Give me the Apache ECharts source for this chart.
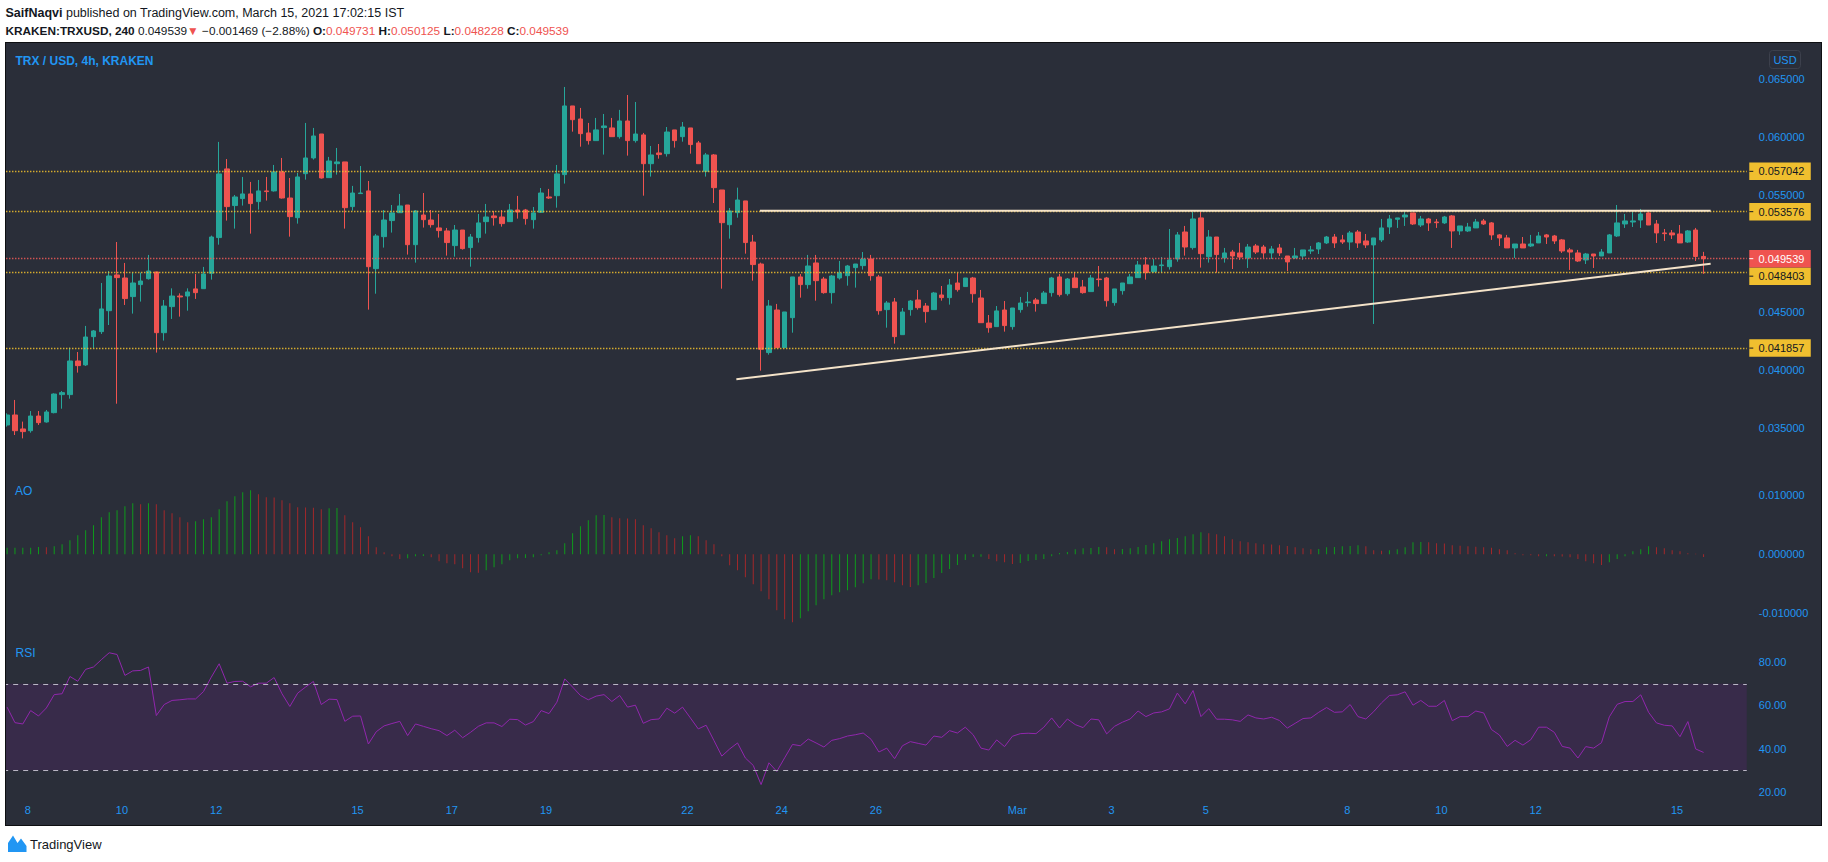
<!DOCTYPE html>
<html>
<head>
<meta charset="utf-8">
<script src="https://cdn.jsdelivr.net/npm/echarts@6/dist/echarts.min.js"></script>
<style>
html,body{margin:0;padding:0;background:#ffffff;}
#wrap{position:relative;width:1828px;height:862px;overflow:hidden;}
#bg{position:absolute;left:5px;top:42px;width:1817px;height:784px;box-sizing:border-box;background:#2a2e39;border:1px solid #0e0f12;}
#c{position:absolute;left:0;top:0;width:1828px;height:862px;}
</style>
</head>
<body>
<div id="wrap"><div id="bg"></div><div id="c"></div></div>
<script>
// ---------------- DATA ----------------
const firstCandleUTC = Date.UTC(2021, 1, 7, 8, 0); // first 4h candle (13:30 IST, Feb 7)
const candleHours = 4;

const open = [0.03525,0.03611,0.03491,0.03476,0.03602,0.03551,0.03631,0.03786,0.03786,0.04075,
0.04041,0.04284,0.04327,0.04507,0.04814,0.04788,0.04628,0.04731,0.04782,0.04840,
0.04318,0.04542,0.04633,0.04633,0.04694,0.04696,0.04828,0.05135,0.05725,0.05410,
0.05470,0.05510,0.05444,0.05536,0.05536,0.05699,0.05475,0.05306,0.05684,0.05819,
0.06025,0.05650,0.05770,0.05785,0.05401,0.05513,0.05536,0.04868,0.05143,0.05281,
0.05349,0.05415,0.05074,0.05329,0.05286,0.05218,0.05192,0.05066,0.05200,0.05049,
0.05135,0.05272,0.05321,0.05312,0.05272,0.05372,0.05372,0.05289,0.05352,0.05484,
0.05495,0.05676,0.06266,0.06154,0.06034,0.05968,0.06080,0.06077,0.06002,0.06137,
0.05968,0.06017,0.05770,0.05862,0.05856,0.06060,0.06002,0.06077,0.05948,0.05705,
0.05845,0.05544,0.05246,0.05349,0.05450,0.05097,0.04908,0.04147,0.04513,0.04190,
0.04447,0.04797,0.04731,0.04917,0.04779,0.04662,0.04788,0.04808,0.04877,0.04894,
0.04951,0.04797,0.04516,0.04582,0.04301,0.04516,0.04599,0.04547,0.04516,0.04642,
0.04619,0.04745,0.04714,0.04788,0.04616,0.04401,0.04370,0.04513,0.04370,0.04516,
0.04576,0.04599,0.04568,0.04662,0.04797,0.04653,0.04788,0.04711,0.04671,0.04779,
0.04788,0.04576,0.04679,0.04739,0.04791,0.04900,0.04842,0.04894,0.04885,0.04951,
0.05183,0.05049,0.05304,0.04971,0.05140,0.04960,0.05011,0.05003,0.04960,0.05063,
0.05054,0.05003,0.05046,0.04977,0.04960,0.04977,0.05020,0.05037,0.05089,0.05140,
0.05115,0.05097,0.05183,0.05106,0.05072,0.05115,0.05226,0.05292,0.05312,0.05347,
0.05243,0.05295,0.05269,0.05261,0.05321,0.05192,0.05192,0.05218,0.05278,0.05261,
0.05158,0.05132,0.05046,0.05080,0.05063,0.05089,0.05158,0.05149,0.05115,0.05029,
0.05003,0.04943,0.04994,0.04977,0.05003,0.05149,0.05252,0.05269,0.05286,0.05347,
0.05252,0.05175,0.05175,0.05166,0.05097,0.05200,0.049731];

const close = [0.03611,0.03476,0.03468,0.03602,0.03545,0.03637,0.03791,0.03803,0.04075,0.04035,
0.04281,0.04333,0.04522,0.04805,0.04791,0.04611,0.04745,0.04762,0.04848,0.04318,
0.04547,0.04633,0.04625,0.04668,0.04662,0.04822,0.05140,0.05682,0.05401,0.05484,
0.05510,0.05427,0.05536,0.05530,0.05699,0.05475,0.05315,0.05656,0.05819,0.06008,
0.05647,0.05793,0.05785,0.05392,0.05518,0.05518,0.04885,0.05149,0.05286,0.05347,
0.05407,0.05074,0.05364,0.05289,0.05246,0.05195,0.05092,0.05200,0.05040,0.05140,
0.05261,0.05312,0.05306,0.05255,0.05372,0.05355,0.05298,0.05347,0.05518,0.05475,
0.05682,0.06266,0.06148,0.06028,0.05968,0.06060,0.06094,0.06002,0.06137,0.05968,
0.06025,0.05770,0.05845,0.05848,0.06042,0.05968,0.06085,0.05934,0.05770,0.05845,
0.05564,0.05263,0.05364,0.05458,0.05092,0.04903,0.04175,0.04547,0.04190,0.04496,
0.04797,0.04731,0.04891,0.04765,0.04662,0.04805,0.04831,0.04891,0.04908,0.04951,
0.04808,0.04507,0.04573,0.04284,0.04496,0.04590,0.04533,0.04499,0.04659,0.04619,
0.04728,0.04688,0.04788,0.04653,0.04404,0.04361,0.04505,0.04379,0.04530,0.04573,
0.04582,0.04568,0.04659,0.04788,0.04645,0.04779,0.04705,0.04662,0.04788,0.04774,
0.04593,0.04694,0.04745,0.04797,0.04900,0.04834,0.04891,0.04900,0.04943,0.05158,
0.05054,0.05295,0.04997,0.05140,0.04989,0.05003,0.04977,0.04968,0.05054,0.05011,
0.05003,0.05037,0.05003,0.04926,0.04977,0.05029,0.05029,0.05089,0.05140,0.05089,
0.05097,0.05175,0.05089,0.05072,0.05132,0.05218,0.05295,0.05304,0.05329,0.05252,
0.05295,0.05261,0.05263,0.05312,0.05192,0.05235,0.05226,0.05269,0.05252,0.05158,
0.05132,0.05046,0.05080,0.05046,0.05080,0.05149,0.05140,0.05106,0.05020,0.05011,
0.04934,0.04994,0.04977,0.05011,0.05158,0.05261,0.05278,0.05278,0.05338,0.05243,
0.05175,0.05169,0.05158,0.05089,0.05192,0.04973,0.049539];

const low = [0.03511,0.03439,0.03410,0.03459,0.03525,0.03545,0.03625,0.03665,0.03751,0.03975,
0.04032,0.04184,0.04307,0.04384,0.03708,0.04556,0.04482,0.04585,0.04774,0.04147,
0.04250,0.04436,0.04456,0.04507,0.04608,0.04694,0.04774,0.05074,0.05281,0.05212,
0.05410,0.05169,0.05375,0.05453,0.05530,0.05470,0.05143,0.05255,0.05633,0.05805,
0.05642,0.05650,0.05676,0.05212,0.05367,0.05513,0.04516,0.04653,0.05049,0.05178,
0.05349,0.04989,0.04920,0.05221,0.05221,0.05135,0.04980,0.04971,0.05032,0.04885,
0.05092,0.05169,0.05238,0.05229,0.05272,0.05298,0.05246,0.05212,0.05347,0.05467,
0.05392,0.05599,0.06045,0.05916,0.05934,0.05968,0.05848,0.06002,0.05985,0.05839,
0.05951,0.05495,0.05659,0.05813,0.05831,0.05908,0.05959,0.05856,0.05770,0.05659,
0.05432,0.04696,0.05126,0.05306,0.04997,0.04765,0.03992,0.04129,0.04190,0.04190,
0.04318,0.04619,0.04696,0.04593,0.04653,0.04568,0.04774,0.04722,0.04705,0.04860,
0.04765,0.04473,0.04361,0.04224,0.04301,0.04464,0.04516,0.04404,0.04516,0.04593,
0.04559,0.04671,0.04714,0.04576,0.04404,0.04318,0.04370,0.04327,0.04344,0.04490,
0.04542,0.04499,0.04568,0.04628,0.04628,0.04636,0.04705,0.04653,0.04671,0.04714,
0.04542,0.04550,0.04645,0.04739,0.04791,0.04774,0.04834,0.04834,0.04860,0.04928,
0.04980,0.05032,0.04877,0.04920,0.04834,0.04920,0.04865,0.04943,0.04874,0.04994,
0.04960,0.04951,0.04977,0.04848,0.04951,0.04943,0.04994,0.04994,0.05080,0.05046,
0.05080,0.05029,0.05046,0.05046,0.04393,0.05097,0.05166,0.05218,0.05235,0.05243,
0.05226,0.05192,0.05218,0.05252,0.05046,0.05158,0.05183,0.05218,0.05243,0.05115,
0.05063,0.05046,0.04960,0.05046,0.05054,0.05089,0.05080,0.05080,0.05003,0.04857,
0.04926,0.04908,0.04874,0.04977,0.05003,0.05140,0.05218,0.05226,0.05218,0.05243,
0.05089,0.05106,0.05123,0.05089,0.05089,0.04934,0.048228];

const high = [0.03625,0.03740,0.03554,0.03645,0.03645,0.03654,0.03797,0.03817,0.04190,0.04152,
0.04376,0.04341,0.04745,0.04848,0.05097,0.04917,0.04834,0.04834,0.04986,0.04840,
0.04599,0.04699,0.04656,0.04699,0.04822,0.04883,0.05152,0.05957,0.05810,0.05501,
0.05656,0.05613,0.05630,0.05656,0.05759,0.05819,0.05647,0.05690,0.06120,0.06077,
0.06025,0.05828,0.05905,0.05785,0.05579,0.05750,0.05621,0.05166,0.05372,0.05415,
0.05510,0.05415,0.05372,0.05518,0.05372,0.05338,0.05218,0.05243,0.05200,0.05166,
0.05338,0.05424,0.05364,0.05372,0.05424,0.05493,0.05381,0.05398,0.05561,0.05553,
0.05759,0.06429,0.06266,0.06249,0.06120,0.06163,0.06197,0.06163,0.06232,0.06360,
0.06300,0.06034,0.05922,0.05939,0.06085,0.06060,0.06128,0.06077,0.05965,0.05862,
0.05853,0.05544,0.05389,0.05564,0.05450,0.05158,0.04920,0.04599,0.04565,0.04496,
0.04797,0.04822,0.04986,0.04986,0.04797,0.04814,0.04934,0.04900,0.04908,0.05011,
0.04986,0.04814,0.04590,0.04616,0.04530,0.04599,0.04685,0.04573,0.04668,0.04719,
0.04779,0.04831,0.04788,0.04797,0.04685,0.04470,0.04547,0.04590,0.04530,0.04625,
0.04668,0.04616,0.04676,0.04797,0.04822,0.04788,0.04840,0.04771,0.04814,0.04891,
0.04797,0.04694,0.04745,0.04822,0.04934,0.04968,0.04951,0.04968,0.05209,0.05183,
0.05235,0.05355,0.05355,0.05200,0.05140,0.05046,0.05029,0.05089,0.05080,0.05080,
0.05072,0.05063,0.05080,0.04977,0.05046,0.05029,0.05063,0.05097,0.05149,0.05166,
0.05158,0.05192,0.05200,0.05166,0.05132,0.05295,0.05329,0.05304,0.05355,0.05347,
0.05321,0.05304,0.05295,0.05321,0.05329,0.05235,0.05261,0.05295,0.05295,0.05269,
0.05166,0.05158,0.05080,0.05140,0.05158,0.05183,0.05166,0.05158,0.05123,0.05046,
0.05029,0.05003,0.04994,0.05037,0.05166,0.05415,0.05338,0.05372,0.05381,0.05372,
0.05286,0.05209,0.05200,0.05243,0.05200,0.05218,0.050125];

const aoValues = [0.00113,
0.00113,0.00113,0.00113,0.00124,0.00119,0.00136,0.00170,0.00237,0.00322,0.00407,
0.00492,0.00627,0.00712,0.00746,0.00814,0.00864,0.00848,0.00864,0.00848,0.00746,
0.00695,0.00627,0.00542,0.00559,0.00593,0.00627,0.00763,0.00898,0.00983,0.01051,
0.01085,0.01017,0.00966,0.00962,0.00915,0.00864,0.00797,0.00794,0.00790,0.00763,
0.00780,0.00785,0.00661,0.00542,0.00458,0.00305,0.00119,0.00034,-0.00034,-0.00079,
-0.00068,-0.00034,-0.00028,-0.00051,-0.00119,-0.00153,-0.00170,-0.00237,-0.00305,-0.00311,
-0.00271,-0.00220,-0.00170,-0.00102,-0.00068,-0.00062,-0.00051,-0.00017,0.00034,0.00068,
0.00186,0.00356,0.00475,0.00576,0.00661,0.00667,0.00627,0.00610,0.00605,0.00593,
0.00492,0.00441,0.00373,0.00322,0.00271,0.00305,0.00322,0.00305,0.00237,0.00170,
-0.00034,-0.00186,-0.00271,-0.00390,-0.00509,-0.00627,-0.00763,-0.00949,-0.01102,-0.01153,
-0.01085,-0.00966,-0.00864,-0.00763,-0.00695,-0.00644,-0.00610,-0.00559,-0.00492,-0.00424,
-0.00426,-0.00441,-0.00475,-0.00525,-0.00554,-0.00525,-0.00486,-0.00401,-0.00316,-0.00249,
-0.00181,-0.00096,-0.00045,-0.00040,-0.00079,-0.00119,-0.00136,-0.00164,-0.00147,-0.00113,
-0.00096,-0.00079,-0.00034,0.00023,0.00040,0.00085,0.00102,0.00107,0.00124,0.00119,
0.00085,0.00090,0.00102,0.00124,0.00158,0.00186,0.00220,0.00254,0.00277,0.00305,
0.00339,0.00373,0.00356,0.00339,0.00305,0.00254,0.00220,0.00203,0.00186,0.00170,
0.00164,0.00153,0.00141,0.00119,0.00102,0.00085,0.00090,0.00119,0.00124,0.00136,
0.00141,0.00153,0.00136,0.00068,0.00062,0.00068,0.00085,0.00119,0.00203,0.00209,
0.00203,0.00186,0.00181,0.00153,0.00147,0.00136,0.00130,0.00119,0.00113,0.00085,
0.00068,0.00017,-0.00017,-0.00018,-0.00034,-0.00032,-0.00034,-0.00036,-0.00051,-0.00079,
-0.00119,-0.00153,-0.00181,-0.00136,-0.00079,-0.00034,0.00051,0.00085,0.00136,0.00119,
0.00102,0.00068,0.00051,0.00017,0.00011,-0.00045];

const rsiValues = [59.2,52.0,51.4,57.6,55.1,58.8,65.0,65.4,73.4,71.2,
76.7,77.8,81.2,84.4,83.6,73.9,76.0,76.2,77.8,55.3,
60.4,62.3,62.6,63.0,63.0,66.4,73.1,79.3,70.3,71.1,
71.2,68.6,70.3,70.3,72.9,65.4,59.5,65.7,68.5,71.1,
60.4,62.9,62.7,52.6,55.0,55.1,42.1,47.8,50.5,51.6,
52.6,46.0,51.4,50.3,49.2,48.3,46.0,48.5,45.0,47.5,
50.3,51.9,51.9,50.2,53.6,53.4,50.9,52.5,57.6,56.2,
61.5,72.3,68.5,64.6,62.6,64.3,65.0,61.8,64.6,59.2,
60.1,51.7,53.4,53.7,58.7,56.4,59.2,54.2,49.1,50.8,
43.7,36.5,39.8,42.6,35.6,32.2,23.3,33.4,29.4,35.7,
41.9,41.3,44.4,42.6,40.7,43.8,44.6,45.8,46.4,47.2,
44.3,38.4,40.2,35.3,41.3,43.2,42.4,41.6,45.8,45.2,
48.3,47.2,49.9,46.4,40.2,39.3,44.0,40.9,45.7,46.9,
47.1,46.9,49.9,54.2,49.5,53.7,51.1,49.7,53.7,53.3,
46.8,50.3,52.2,53.7,57.4,54.8,56.5,57.0,58.4,65.7,
60.7,66.9,54.8,58.5,53.6,53.6,53.3,52.6,55.6,54.2,
53.7,54.5,53.0,49.5,51.7,53.9,54.2,56.8,59.0,56.8,
57.0,60.4,54.8,53.7,57.1,61.2,64.6,64.9,66.3,60.1,
62.3,59.6,59.6,62.3,52.9,54.8,54.8,57.4,56.5,48.8,
46.3,41.0,43.8,41.6,44.1,49.9,49.9,47.5,41.0,40.2,
35.6,40.9,40.2,42.7,54.7,60.5,61.8,61.8,64.9,56.8,
51.9,50.8,50.5,45.5,52.5,39.8,38.2];

// horizontal levels (yellow) and last price (red)
const levelValues = [0.057042, 0.053576, 0.048403, 0.041857];
const lastPrice = 0.049539;
const priceChange = '−0.001469';
const priceChangePct = '(−2.88%)';

// trend lines: x in hours since 2021-02-08 00:00 IST, y in price
const resistanceLine = [[372.9, 0.05365], [857.1, 0.05365]];
const supportLine = [[360.9, 0.03918], [857.1, 0.04911]];

// x tick labels: day offset from Feb 8 (IST) and label text
const xTickDays = [0, 2, 4, 7, 9, 11, 14, 16, 18, 21, 23, 25, 28, 30, 32, 35];
const xTickLabels = ['8', '10', '12', '15', '17', '19', '22', '24', '26', 'Mar', '3', '5', '8', '10', '12', '15'];

// ---------------- BUILD ----------------
const N_SLOTS = 222; // candles + empty right margin slots
const categories = [];
for (let i = 0; i < N_SLOTS; i++) {
  const d = new Date(firstCandleUTC + i * candleHours * 3600000 + 5.5 * 3600000);
  categories.push(d.toISOString().slice(0, 16).replace('T', ' '));
}
const candleData = open.map((o, i) => [o, close[i], low[i], high[i]]);

const FONT = 'Liberation Sans, Arial, sans-serif';
const BLUE = '#2196f3';
const YEL = '#f0bf2f';
const RED = '#ef5350';
const GL = 3.17, GW = 1743.6;
const GRID_R = GL + GW;
const PRICE_MIN = 0.03, PRICE_MAX = 0.07, PRICE_H = 465.6;
const boxValues = levelValues.concat([lastPrice]);

const hiddenCat = (gi) => ({type: 'category', gridIndex: gi, data: categories, show: false, boundaryGap: true});
const yBase = {
  position: 'right', axisLine: {show: false}, axisTick: {show: false}, splitLine: {show: false}
};
const lblBase = {color: BLUE, fontSize: 11, fontFamily: FONT, margin: 12};
// hide a price tick label when a price box sits on top of it (as in the reference)
const pxPerPrice = PRICE_H / (PRICE_MAX - PRICE_MIN);
const priceLabel = v => boxValues.some(b => Math.abs(b - v) * pxPerPrice < 14) ? '' : v.toFixed(6);

const chart = echarts.init(document.getElementById('c'), null, {renderer: 'svg', width: 1828, height: 862});

const option = {
  animation: false,
  backgroundColor: 'transparent',
  textStyle: {fontFamily: FONT},
  grid: [
    {left: GL, width: GW, top: 20.5, height: PRICE_H, containLabel: false, outerBoundsMode: 'none'},
    {left: GL, width: GW, top: 436.3, height: 236, containLabel: false, outerBoundsMode: 'none'},
    {left: GL, width: GW, top: 619.1, height: 172.6, containLabel: false, outerBoundsMode: 'none'},
    {left: 27.71, width: 1696.5, top: 790, height: 1.7, containLabel: false, outerBoundsMode: 'none'},
    {left: GL, width: GW, top: 20.5, height: PRICE_H, containLabel: false, outerBoundsMode: 'none'}
  ],
  xAxis: [
    hiddenCat(0), hiddenCat(1), hiddenCat(2),
    {type: 'value', gridIndex: 3, min: 0, max: 864, interval: 24,
      axisLine: {show: false}, axisTick: {show: false}, splitLine: {show: false},
      axisLabel: {color: BLUE, fontSize: 11, fontFamily: FONT, margin: 13, showMinLabel: true, showMaxLabel: true,
        formatter: v => { const k = xTickDays.indexOf(Math.round(v / 24)); return k >= 0 ? xTickLabels[k] : ''; }}},
    {type: 'value', gridIndex: 4, min: -12.5, max: 875.5, show: false}
  ],
  yAxis: [
    Object.assign({type: 'value', gridIndex: 0, min: PRICE_MIN, max: PRICE_MAX, interval: 0.005,
      axisLabel: Object.assign({}, lblBase, {showMinLabel: false, showMaxLabel: false, formatter: priceLabel})}, yBase),
    Object.assign({type: 'value', gridIndex: 1, min: -0.02, max: 0.02, interval: 0.01,
      axisLabel: Object.assign({}, lblBase, {showMinLabel: false, showMaxLabel: false, formatter: v => v.toFixed(6)})}, yBase),
    Object.assign({type: 'value', gridIndex: 2, min: 20, max: 100, interval: 20,
      axisLabel: Object.assign({}, lblBase, {showMinLabel: true, showMaxLabel: false, formatter: v => v.toFixed(2)})}, yBase),
    {type: 'value', gridIndex: 3, show: false},
    {type: 'value', gridIndex: 4, min: PRICE_MIN, max: PRICE_MAX, show: false}
  ],
  series: [
    {
      type: 'candlestick', xAxisIndex: 0, yAxisIndex: 0, data: candleData, barWidth: 5,
      itemStyle: {color: '#26a69a', color0: RED, borderColor: '#26a69a', borderColor0: RED, borderWidth: 1},
      markLine: {
        silent: true, symbol: 'none', animation: false, precision: 6, label: {show: false},
        data: levelValues.map(v => ({yAxis: v, lineStyle: {color: '#f7c52c', type: [1.2, 1.8], width: 1.3}}))
          .concat([{yAxis: lastPrice, lineStyle: {color: '#f25b58', type: [1.2, 1.8], width: 1.3}}])
      },
      z: 3
    },
    {
      type: 'bar', xAxisIndex: 1, yAxisIndex: 1, data: aoValues, barWidth: 1, silent: true,
      itemStyle: {color: p => (p.dataIndex === 0 || aoValues[p.dataIndex] >= aoValues[p.dataIndex - 1]) ? '#0f9a1c' : '#a3282b'}
    },
    {
      type: 'line', xAxisIndex: 2, yAxisIndex: 2, data: rsiValues, symbol: 'none', silent: true,
      lineStyle: {color: '#9127ad', width: 1},
      markArea: {silent: true, itemStyle: {color: '#382b4a'}, data: [[{yAxis: 30}, {yAxis: 70}]]},
      markLine: {silent: true, symbol: 'none', precision: 2, label: {show: false},
        lineStyle: {color: '#b9b6c4', type: [5, 5], width: 1},
        data: [{yAxis: 70}, {yAxis: 30}]},
      z: 3
    },
    {type: 'line', xAxisIndex: 4, yAxisIndex: 4, data: resistanceLine, symbol: 'none', silent: true,
      lineStyle: {color: '#f4e3c9', width: 2}, z: 5},
    {type: 'line', xAxisIndex: 4, yAxisIndex: 4, data: supportLine, symbol: 'none', silent: true,
      lineStyle: {color: '#f4e3c9', width: 2}, z: 5}
  ]
};
chart.setOption(option);

// ---------------- price label boxes + text ----------------
const yRed = chart.convertToPixel({yAxisIndex: 0}, lastPrice);
const BOX_H = 17.5;
const boxes = [];
levelValues.forEach(v => {
  let y = chart.convertToPixel({yAxisIndex: 0}, v);
  if (Math.abs(y - yRed) < BOX_H) y = yRed + (y >= yRed ? BOX_H : -BOX_H);
  boxes.push({v, y, bg: YEL, fg: '#131722'});
});
boxes.push({v: lastPrice, y: yRed, bg: RED, fg: '#ffffff'});

const g = [];
boxes.forEach(b => {
  g.push({type: 'rect', shape: {x: GRID_R + 2.5, y: b.y - BOX_H / 2, width: 61.5, height: BOX_H}, style: {fill: b.bg}, z: 100});
  g.push({type: 'rect', shape: {x: GRID_R + 2.5, y: b.y - 0.5, width: 4, height: 1}, style: {fill: b.fg}, z: 101});
  g.push({type: 'text', x: 1758.5, y: b.y, style: {text: b.v.toFixed(6), fill: b.fg, font: '11px ' + FONT, textVerticalAlign: 'middle', textAlign: 'left'}, z: 101});
});
// left margin cover & border
g.push({type: 'rect', shape: {x: 0, y: 40, width: 5, height: 790}, style: {fill: '#ffffff'}, z: 110});
g.push({type: 'rect', shape: {x: 5, y: 42, width: 1, height: 784}, style: {fill: '#0e0f12'}, z: 111});
// USD box
g.push({type: 'rect', shape: {x: 1769.5, y: 50.5, width: 31, height: 18, r: 3}, style: {fill: '#2a2e39', stroke: '#3c404c', lineWidth: 1}, z: 100});
g.push({type: 'text', x: 1785, y: 59.5, style: {text: 'USD', fill: BLUE, font: '11px ' + FONT, textAlign: 'center', textVerticalAlign: 'middle'}, z: 101});
// headers
g.push({type: 'text', x: 5.5, y: 13, z: 100, style: {
  text: '{b|SaifNaqvi} published on TradingView.com, March 15, 2021 17:02:15 IST',
  fill: '#131722', font: '12.5px ' + FONT, textVerticalAlign: 'middle',
  rich: {b: {fontWeight: 'bold', fontSize: 12.5, fontFamily: FONT, fill: '#131722'}}
}});
const last = open.length - 1;
g.push({type: 'text', x: 5.5, y: 30.5, z: 100, style: {
  text: '{b|KRAKEN:TRXUSD, 240} ' + lastPrice.toFixed(6) + '{r|▼} ' + priceChange + ' ' + priceChangePct +
    ' {b|O:}{r|' + open[last].toFixed(6) + '} {b|H:}{r|' + high[last].toFixed(6) + '} {b|L:}{r|' + low[last].toFixed(6) + '} {b|C:}{r|' + close[last].toFixed(6) + '}',
  fill: '#131722', font: '11.8px ' + FONT, textVerticalAlign: 'middle',
  rich: {b: {fontWeight: 'bold', fontSize: 11.8, fontFamily: FONT, fill: '#131722'},
         r: {fontSize: 11.8, fontFamily: FONT, fill: RED}}
}});
g.push({type: 'text', x: 15.5, y: 60.5, z: 100, style: {text: 'TRX / USD, 4h, KRAKEN', fill: BLUE, font: 'bold 12px ' + FONT, textVerticalAlign: 'middle'}});
g.push({type: 'text', x: 15, y: 491, z: 100, style: {text: 'AO', fill: BLUE, font: '12px ' + FONT, textVerticalAlign: 'middle'}});
g.push({type: 'text', x: 15.5, y: 653, z: 100, style: {text: 'RSI', fill: BLUE, font: '12px ' + FONT, textVerticalAlign: 'middle'}});
// TradingView logo
g.push({type: 'polygon', z: 100, shape: {points: [[8, 852], [8, 843], [13, 835.5], [17.5, 843], [21, 838.5], [26.5, 846], [26.5, 852]]}, style: {fill: BLUE}});
g.push({type: 'text', x: 30, y: 844.5, z: 100, style: {text: 'TradingView', fill: '#131722', font: '13px ' + FONT, textVerticalAlign: 'middle'}});

chart.setOption({graphic: g});
</script>
</body>
</html>
